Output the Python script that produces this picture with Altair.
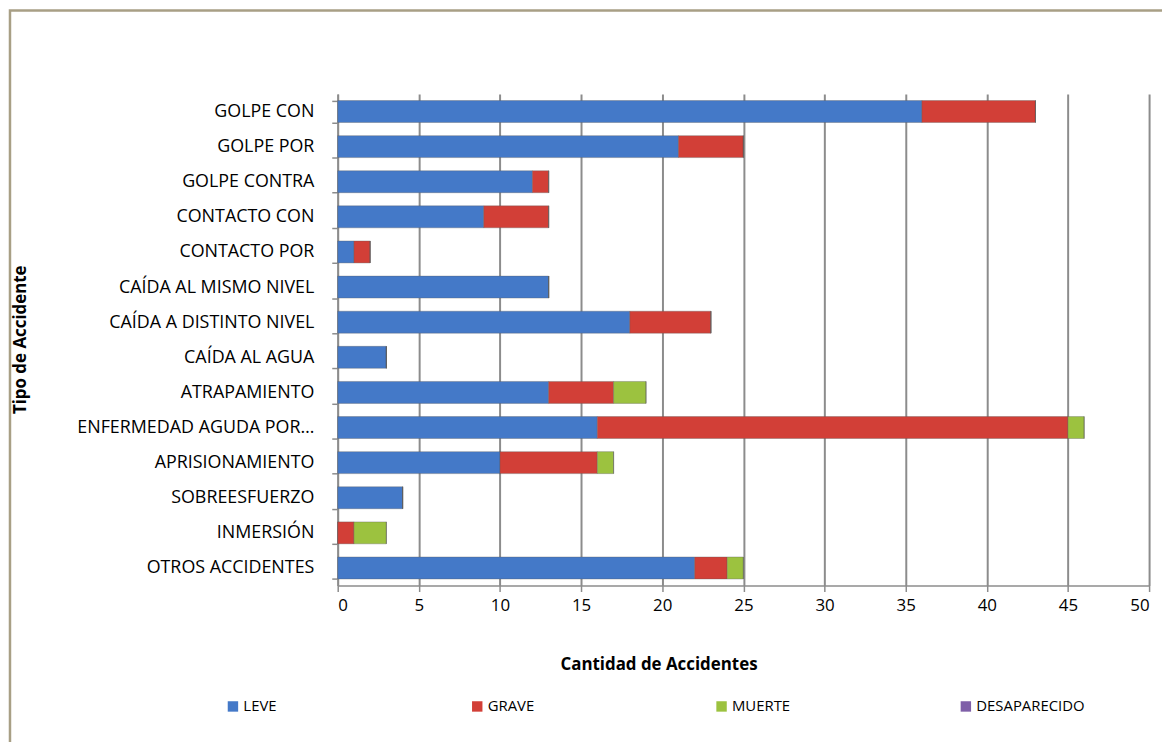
import altair as alt
import pandas as pd

categories = [
    "GOLPE CON", "GOLPE POR", "GOLPE CONTRA", "CONTACTO CON", "CONTACTO POR",
    "CAÍDA AL MISMO NIVEL", "CAÍDA A DISTINTO NIVEL", "CAÍDA AL AGUA",
    "ATRAPAMIENTO", "ENFERMEDAD AGUDA POR…", "APRISIONAMIENTO",
    "SOBREESFUERZO", "INMERSIÓN", "OTROS ACCIDENTES",
]
series = ["LEVE", "GRAVE", "MUERTE", "DESAPARECIDO"]
leve = [36, 21, 12, 9, 1, 13, 18, 3, 13, 16, 10, 4, 0, 22]
grave = [7, 4, 1, 4, 1, 0, 5, 0, 4, 29, 6, 0, 1, 2]
muerte = [0, 0, 0, 0, 0, 0, 0, 0, 2, 1, 1, 0, 2, 1]
desaparecido = [0] * 14
colors = ["#4479c8", "#d23f37", "#9cc23f", "#7f5fa8"]
x_ticks = [0, 5, 10, 15, 20, 25, 30, 35, 40, 45, 50]

rows = []
for s_i, (s, vals) in enumerate(zip(series, [leve, grave, muerte, desaparecido])):
    for c, v in zip(categories, vals):
        rows.append({"Tipo": c, "Serie": s, "orden": s_i, "Cantidad": v})
df = pd.DataFrame(rows)

FONT = "Open Sans"

bars = alt.Chart(df).mark_bar(stroke="#5a5a5a", strokeWidth=0.6, strokeOpacity=0.6).encode(
    y=alt.Y(
        "Tipo:N",
        sort=categories,
        scale=alt.Scale(paddingInner=0.375, paddingOuter=0.1875),
        axis=alt.Axis(
            title="Tipo de Accidente",
            titleFont=FONT, titleFontSize=17, titleFontWeight="bold", titleColor="#000",
            titleX=-310, titleY=247, titleAngle=270, titleAlign="center",
            labelFont=FONT, labelFontSize=18, labelColor="#000", labelLimit=320,
            labelPadding=18,
            tickBand="extent", tickSize=6, tickColor="#8c8c8c", tickWidth=1.5,
            domainColor="#8c8c8c", domainWidth=1.5,
            grid=False,
        ),
    ),
    x=alt.X(
        "Cantidad:Q",
        stack="zero",
        scale=alt.Scale(domain=[0, 50], nice=False),
        axis=alt.Axis(
            values=x_ticks,
            title="Cantidad de Accidentes",
            titleFont=FONT, titleFontSize=17, titleFontWeight="bold", titleColor="#000",
            titleX=323, titleY=72, titleAnchor="middle",
            labelFont=FONT, labelFontSize=17, labelColor="#000", labelPadding=6,
            tickSize=6, tickColor="#8c8c8c", tickWidth=1.5,
            domainColor="#8c8c8c", domainWidth=1.5,
            grid=True, gridColor="#8c8c8c", gridWidth=2,
        ),
    ),
    color=alt.Color(
        "Serie:N",
        sort=series,
        scale=alt.Scale(domain=series, range=colors),
        legend=alt.Legend(
            title=None, orient="none", direction="horizontal", columns=4,
            legendX=-113, legendY=609, symbolType="square", symbolSize=110,
            symbolStrokeWidth=0, labelFont=FONT, labelFontSize=15, labelColor="#000",
            gridAlign="all", columnPadding=118, labelOffset=3,
        ),
    ),
    order=alt.Order("orden:Q"),
)

frame = alt.Chart(pd.DataFrame({"a": [0]})).mark_rect(
    fill=None, stroke="#a89f85", strokeWidth=2.5
).encode(
    x=alt.value(-330), x2=alt.value(2000), y=alt.value(-84), y2=alt.value(2000)
)

chart = alt.layer(frame, bars).properties(
    width=817, height=495,
    padding={"left": 332, "top": 84, "right": 13, "bottom": 155},
    autosize=alt.AutoSizeParams(type="none"),
).configure_view(stroke=None)

chart.save("out.html", embed_options={"renderer": "svg", "actions": False})
